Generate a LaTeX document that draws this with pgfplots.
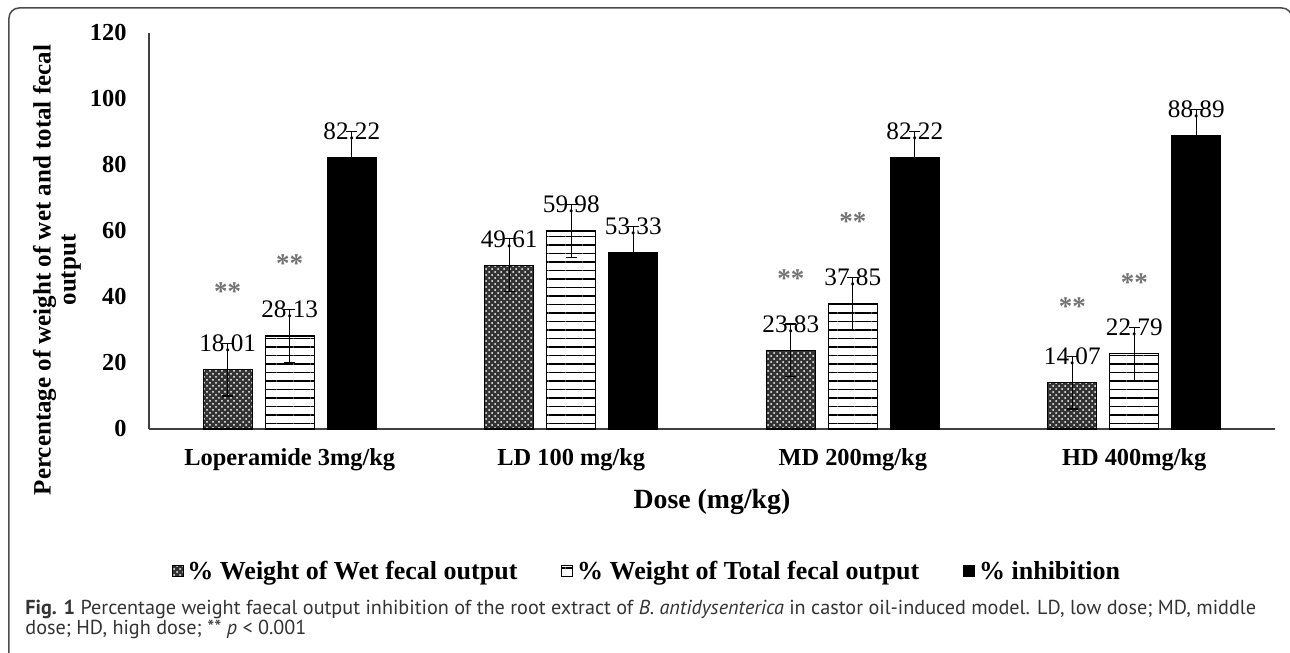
\documentclass[border=0pt]{standalone}
\usepackage{fontspec}
\setmainfont{Liberation Serif}
\newfontfamily\capfont{PT Sans}
\usepackage{pgfplots}
\pgfplotsset{compat=1.18}
\usetikzlibrary{patterns,patterns.meta}
\begin{document}
\begin{tikzpicture}
\useasboundingbox (-74.5pt,214.5pt) rectangle (570.5pt,-112pt);
\clip (-74.5pt,214.5pt) rectangle (570.5pt,-112pt);
\begin{axis}[
  at={(0pt,0pt)}, anchor=south west,
  scale only axis, width=563pt, height=198pt,
  ybar=6.5pt, bar width=24.5pt,
  xmin=-0.5, xmax=3.5, ymin=0, ymax=120,
  axis lines=left,
  axis line style={-, black!75, line width=0.7pt},
  xtick={0,1,2,3},
  xticklabels={Loperamide 3mg/kg, LD 100 mg/kg, MD 200mg/kg, HD 400mg/kg},
  ytick={0,20,...,120},
  major tick length=0pt, tick style={draw=none},
  /pgf/number format/assume math mode=true,
  yticklabel style={font=\fontsize{12.2}{14}\selectfont\bfseries, anchor=east, inner sep=0pt, xshift=-11pt},
  xticklabel style={font=\fontsize{12.2}{14}\selectfont\bfseries, anchor=base, inner sep=0pt, yshift=-18pt},
  nodes near coords={\pgfmathprintnumber[fixed,fixed zerofill,precision=2]{\pgfplotspointmeta}},
  nodes near coords style={font=\fontsize{12.6}{14}\selectfont, anchor=center, inner sep=0pt, yshift=13.2pt, text=black},
  legend style={at={(0.443,-0.361)}, anchor=center, draw=none, fill=none,
    legend columns=3, font=\fontsize{13}{14}\selectfont\bfseries,
    /tikz/every even column/.append style={column sep=20pt}},
  legend image code/.code={\draw[#1,draw=black,line width=0.4pt] (0pt,-2.3pt) rectangle (5.5pt,3.2pt);},
  clip=false,
]
\addplot[fill=black!80, draw=black, line width=0.7pt,
  postaction={pattern=crosshatch dots, pattern color=white},
  error bars/.cd, y dir=both, y explicit,
  error bar style={black, line width=0.6pt, solid},
  error mark options={rotate=90, black, line width=0.6pt, mark size=2.75pt}]
  coordinates {(0,18.01) +- (0,8) (1,49.61) +- (0,8) (2,23.83) +- (0,8) (3,14.07) +- (0,8)};
\addlegendentry{\% Weight of Wet fecal output}
\addplot[fill=white, draw=black, line width=0.7pt,
  postaction={pattern={Lines[angle=0,distance=4.25pt,line width=0.6pt]}},
  error bars/.cd, y dir=both, y explicit,
  error bar style={black, line width=0.6pt, solid},
  error mark options={rotate=90, black, line width=0.6pt, mark size=2.75pt}]
  coordinates {(0,28.13) +- (0,8) (1,59.98) +- (0,8) (2,37.85) +- (0,8) (3,22.79) +- (0,8)};
\addlegendentry{\% Weight of Total fecal output}
\addplot[fill=black, draw=black, line width=0.7pt,
  error bars/.cd, y dir=both, y explicit,
  error bar style={black, line width=0.6pt, solid},
  error mark options={rotate=90, black, line width=0.6pt, mark size=2.75pt}]
  coordinates {(0,82.22) +- (0,8) (1,53.33) +- (0,8) (2,82.22) +- (0,8) (3,88.89) +- (0,8)};
\addlegendentry{\% inhibition}
\begin{scope}[every node/.style={font=\fontsize{13.5}{14}\selectfont\bfseries, text=black!55}]
\node[xshift=-31pt] at (axis cs:0,41.7) {**};
\node at (axis cs:0,50.2) {**};
\node[xshift=-31pt] at (axis cs:2,45.7) {**};
\node at (axis cs:2,62.9) {**};
\node[xshift=-31pt] at (axis cs:3,37.2) {**};
\node at (axis cs:3,44.5) {**};
\end{scope}
\end{axis}
\node[rotate=90, align=center, font=\fontsize{12.5}{12.5}\selectfont\bfseries] at (-46pt,79.5pt) {Percentage of weight of wet and total fecal\\output};
\node[anchor=base, font=\fontsize{13.9}{14}\selectfont\bfseries] at (281.5pt,-39.5pt) {Dose (mg/kg)};
\node[anchor=base west, align=left, inner sep=0pt, text=black!80, font=\capfont\fontsize{10.1}{10}\selectfont] at (-62pt,-102.5pt) {\textbf{Fig. 1} Percentage weight faecal output inhibition of the root extract of \textit{B. antidysenterica} in castor oil-induced model. LD, low dose; MD, middle\\dose; HD, high dose; ** \textit{p} < 0.001};
\draw[black!70, line width=0.75pt, rounded corners=5pt] (-70pt,-130pt) -- (-70pt,210.5pt) -- (571.5pt,210.5pt) -- (571.5pt,-130pt);
\end{tikzpicture}
\end{document}
